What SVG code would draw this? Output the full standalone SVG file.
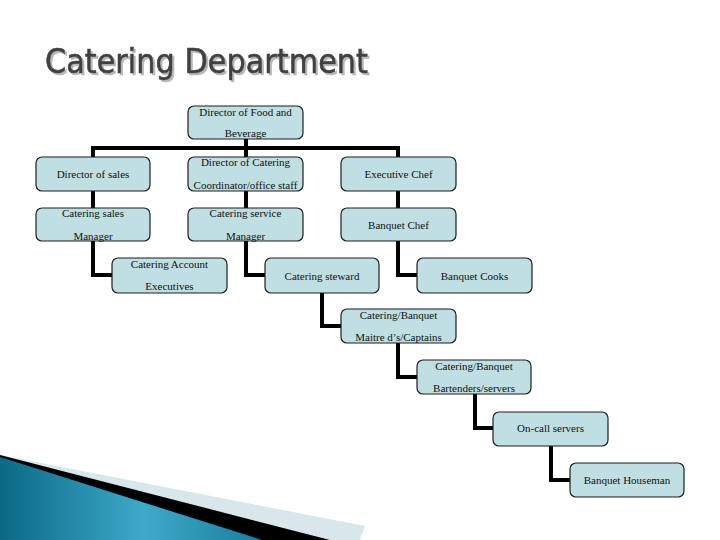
<svg xmlns="http://www.w3.org/2000/svg" width="720" height="540" viewBox="0 0 720 540">
<defs>
<style>
.box{fill:#bfdfe3;stroke:#1e1e1e;stroke-width:1.2}
.t{font-family:"Liberation Serif","Times New Roman",serif;font-size:11px;fill:#111;text-anchor:middle}
.conn{fill:none;stroke:#000;stroke-width:4;stroke-linejoin:miter;stroke-linecap:butt}
.title{font-family:"DejaVu Sans","Liberation Sans",sans-serif;font-size:33px;fill:#404040;stroke:#404040;stroke-width:0.6}
</style>
<filter id="shadow" x="-5%" y="-20%" width="110%" height="150%">
<feDropShadow dx="2" dy="2" stdDeviation="0.6" flood-color="#b8b8b8" flood-opacity="1"/>
</filter>
<linearGradient id="teal" x1="0" y1="0" x2="1" y2="0">
<stop offset="0" stop-color="#0b6a86"/>
<stop offset="0.55" stop-color="#3ea9c9"/>
<stop offset="1" stop-color="#1a7f9c"/>
</linearGradient>
</defs>
<rect width="720" height="540" fill="#fff"/>
<g id="decor">
<polygon points="0,455 365,526 360,540 0,540" fill="#d8e7ec"/>
<polygon points="0,455 330,540 0,540" fill="#000"/>
<polygon points="0,457 262,540 0,540" fill="url(#teal)"/>
</g>
<g id="title">
<text class="title" x="45" y="73" filter="url(#shadow)" textLength="323" lengthAdjust="spacingAndGlyphs">Catering Department</text>
</g>
<g id="connectors">
<path class="conn" d="M93,157 V148 H398 V157"/>
<path class="conn" d="M246,139 V157"/>
<path class="conn" d="M93,191 V208"/>
<path class="conn" d="M246,191 V208"/>
<path class="conn" d="M398,191 V208"/>
<path class="conn" d="M93,241 V275 H112"/>
<path class="conn" d="M246,241 V275 H265"/>
<path class="conn" d="M398,241 V275 H417"/>
<path class="conn" d="M322,293 V326 H341"/>
<path class="conn" d="M398,343 V377 H417"/>
<path class="conn" d="M475,394 V428 H493"/>
<path class="conn" d="M551,446 V480 H570"/>
</g>
<g id="n-dfb"><rect class="box" x="188" y="106" width="115" height="33" rx="6"/><text class="t" x="245.5" y="116">Director of Food and</text><text class="t" x="245.5" y="137">Beverage</text></g>
<g id="n-dsales"><rect class="box" x="36" y="157" width="114" height="34" rx="6"/><text class="t" x="93" y="178">Director of sales</text></g>
<g id="n-dcat"><rect class="box" x="188" y="157" width="115" height="34" rx="6"/><text class="t" x="245.5" y="166">Director of Catering</text><text class="t" x="245.5" y="189">Coordinator/office staff</text></g>
<g id="n-exec"><rect class="box" x="341" y="157" width="115" height="34" rx="6"/><text class="t" x="398.5" y="178">Executive Chef</text></g>
<g id="n-csm"><rect class="box" x="36" y="208" width="114" height="33" rx="6"/><text class="t" x="93" y="217">Catering sales</text><text class="t" x="93" y="240">Manager</text></g>
<g id="n-csvm"><rect class="box" x="188" y="208" width="115" height="33" rx="6"/><text class="t" x="245.5" y="217">Catering service</text><text class="t" x="245.5" y="240">Manager</text></g>
<g id="n-bchef"><rect class="box" x="341" y="208" width="115" height="33" rx="6"/><text class="t" x="398.5" y="229">Banquet Chef</text></g>
<g id="n-cae"><rect class="box" x="112" y="258" width="115" height="35" rx="6"/><text class="t" x="169.5" y="268">Catering Account</text><text class="t" x="169.5" y="290">Executives</text></g>
<g id="n-steward"><rect class="box" x="265" y="258" width="114" height="35" rx="6"/><text class="t" x="322" y="280">Catering steward</text></g>
<g id="n-cooks"><rect class="box" x="417" y="258" width="115" height="35" rx="6"/><text class="t" x="474.5" y="280">Banquet Cooks</text></g>
<g id="n-maitre"><rect class="box" x="341" y="309" width="115" height="34" rx="6"/><text class="t" x="398.5" y="319">Catering/Banquet</text><text class="t" x="398.5" y="341">Maitre d’s/Captains</text></g>
<g id="n-bart"><rect class="box" x="417" y="360" width="114" height="34" rx="6"/><text class="t" x="474" y="370">Catering/Banquet</text><text class="t" x="474" y="392">Bartenders/servers</text></g>
<g id="n-oncall"><rect class="box" x="493" y="412" width="115" height="34" rx="6"/><text class="t" x="550.5" y="432">On-call servers</text></g>
<g id="n-house"><rect class="box" x="570" y="463" width="114" height="34" rx="6"/><text class="t" x="627" y="484">Banquet Houseman</text></g>
</svg>
